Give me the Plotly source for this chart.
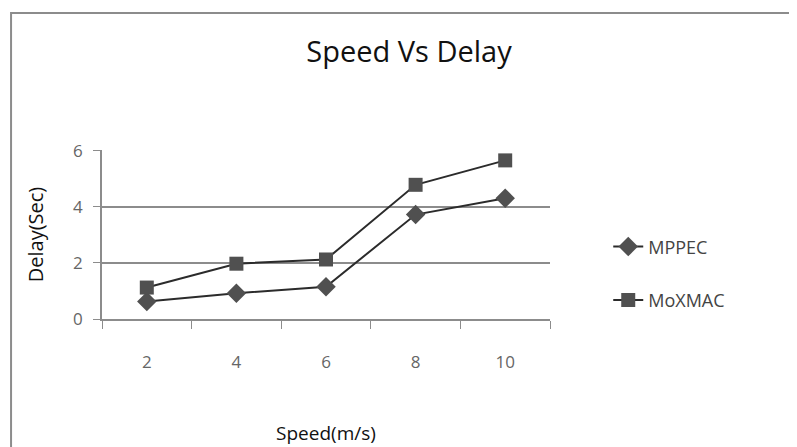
import plotly.graph_objects as go

# --- DATA ---
speeds = ["2", "4", "6", "8", "10"]
mppec_delay = [0.62, 0.92, 1.15, 3.72, 4.3]
moxmac_delay = [1.12, 1.97, 2.12, 4.78, 5.65]
y_ticks = [0, 2, 4, 6]

FONT = "Open Sans, sans-serif"
LINE_COL = "#2b2b2b"
MARK_COL = "#505050"
GRID = "#8c8c8c"

# the page adds an 8px body margin, so the figure is drawn 8px smaller
W, H = 789, 439

fig = go.Figure()
fig.add_scatter(x=speeds, y=mppec_delay, name="MPPEC", mode="lines+markers",
                legendgroup="a",
                line=dict(color=LINE_COL, width=2),
                marker=dict(symbol="diamond", size=15, color=MARK_COL))
fig.add_scatter(x=speeds, y=moxmac_delay, name="MoXMAC", mode="lines+markers",
                legendgroup="b",
                line=dict(color=LINE_COL, width=2),
                marker=dict(symbol="square", size=14, color=MARK_COL))

# chart frame (Excel-style outer border), open to the right and bottom
fig.add_shape(type="rect", xref="paper", yref="paper",
              x0=-0.203, x1=3, y0=-3, y1=1.811,
              line=dict(color=GRID, width=2), layer="below")

fig.update_xaxes(type="category", range=[-0.5, 4.5], tickson="boundaries",
                 ticks="outside", ticklen=8, tickcolor=GRID, automargin=False,
                 showline=True, linecolor=GRID, linewidth=1.5, ticklabelstandoff=27,
                 showgrid=False, tickfont=dict(size=17, color="#666", family=FONT),
                 title=dict(text="Speed(m/s)", standoff=55,
                            font=dict(size=19, color="#111", family=FONT)))
fig.update_yaxes(range=[0, 6.02], tickvals=y_ticks, ticks="outside", ticklen=7,
                 tickcolor=GRID, showline=True, linecolor=GRID, automargin=False,
                 linewidth=1.5, showgrid=True, gridcolor=GRID, gridwidth=1.5,
                 ticklabelstandoff=7,
                 zeroline=False, tickfont=dict(size=17, color="#666", family=FONT),
                 title=dict(text="Delay(Sec)", standoff=24,
                            font=dict(size=20, color="#111", family=FONT)))

fig.update_layout(
    width=W, height=H,
    margin=dict(l=94, r=W - 94 - 448, t=142, b=H - 142 - 169),
    paper_bgcolor="white", plot_bgcolor="white",
    title=dict(text="Speed Vs Delay", x=401 / W, xanchor="center",
               y=1 - 44 / H, yanchor="middle",
               font=dict(size=29, color="#111", family=FONT)),
    legend=dict(x=1.13, y=0.27, xanchor="left", yanchor="middle",
                tracegroupgap=27, traceorder="grouped",
                font=dict(size=18, color="#444", family=FONT),
                bgcolor="rgba(0,0,0,0)"),
)

fig.write_html("out.html")
